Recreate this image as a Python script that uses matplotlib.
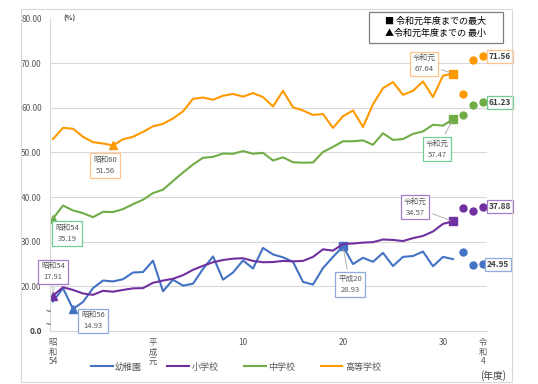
import matplotlib.pyplot as plt
from matplotlib.patches import Rectangle

plt.rcParams['font.family'] = ['Noto Sans CJK JP', 'DejaVu Sans']

# データ（年度別、%）
years = list(range(1979, 2020))
extra_years = [2020, 2021, 2022]

kinder = [16.6, 19.6, 14.93, 16.5, 19.6, 21.3, 21.1, 21.6, 23.1, 23.2,
          25.75, 18.9, 21.5, 20.15, 20.6, 23.9, 26.7, 21.5, 23.1, 25.8,
          24.0, 28.6, 27.15, 26.5, 25.5, 21.0, 20.4, 24.1, 26.6, 28.93,
          25.0, 26.4, 25.5, 27.5, 24.55, 26.6, 26.8, 27.8, 24.5, 26.6, 26.1]
kinder_extra = [27.8, 24.8, 24.95]

elem = [17.91, 19.8, 19.2, 18.4, 18.1, 19.0, 18.8, 19.2, 19.55, 19.6,
        20.8, 21.3, 21.7, 22.5, 23.7, 24.6, 25.4, 25.9, 26.2, 26.3,
        25.7, 25.4, 25.45, 25.7, 25.6, 25.7, 26.6, 28.3, 28.0, 29.5,
        29.6, 29.8, 29.9, 30.5, 30.4, 30.15, 30.8, 31.3, 32.3, 34.0, 34.57]
elem_extra = [37.5, 36.9, 37.88]

junior = [35.19, 38.1, 37.0, 36.4, 35.5, 36.7, 36.65, 37.3, 38.4, 39.4,
          40.9, 41.65, 43.6, 45.5, 47.3, 48.8, 49.0, 49.75, 49.7, 50.3,
          49.7, 49.9, 48.2, 48.9, 47.8, 47.7, 47.75, 50.1, 51.25, 52.5,
          52.5, 52.7, 51.7, 54.3, 52.8, 53.0, 54.15, 54.7, 56.2, 56.0, 57.47]
junior_extra = [58.3, 60.6, 61.23]

high = [53.0, 55.5, 55.3, 53.5, 52.3, 52.0, 51.56, 52.95, 53.5, 54.6,
        55.85, 56.4, 57.6, 59.2, 62.0, 62.3, 61.8, 62.7, 63.1, 62.5,
        63.3, 62.4, 60.3, 63.8, 60.1, 59.4, 58.4, 58.6, 55.5, 58.1,
        59.4, 55.7, 60.8, 64.4, 65.75, 62.9, 63.8, 65.9, 62.4, 67.2, 67.64]
high_extra = [63.1, 70.8, 71.56]

names = ["幼稚園", "小学校", "中学校", "高等学校"]
xtick_pos = [1979, 1989, 1998, 2008, 2018, 2022]
xtick_labels = ["昭\n和\n54", "平\n成\n元", "10", "20", "30", "令\n和\n4"]
ytick_pos = [10, 20, 30, 40, 50, 60, 70, 80]
ytick_labels = ["0.0", "20.00", "30.00", "40.00", "50.00", "60.00", "70.00", "80.00"]


def era(y):
    if y < 1989:
        return "昭和%d" % (y - 1925)
    if y == 1989:
        return "平成元"
    if y < 2019:
        return "平成%d" % (y - 1988)
    return "令和元"


# --------------------------------------------------------------
fig = plt.figure(figsize=(5.38, 3.84), dpi=100)
fig.add_artist(Rectangle((21 / 538, 1 - 382 / 384), 491 / 538, 373 / 384,
                         transform=fig.transFigure, fill=False, ec="#d9d9d9", lw=0.8))
ax = fig.add_axes([50 / 538, 53 / 384, 437 / 538, 312.5 / 384])

series = [
    (kinder, kinder_extra, "#4472C4", "#8FAADC", (20, -12), (7, -38), (15, 0)),
    (elem, elem_extra, "#7030A0", "#A57BC8", (0, 24), (-38, 14), (17, 0)),
    (junior, junior_extra, "#70AD47", "#6FCF97", (14, -15), (-16, -30), (17, 0)),
    (high, high_extra, "#FF9900", "#FFC58A", (-8, -20), (-29, 10), (17, 0)),
]

handles = []
for (vals, extra, col, boxcol, off_min, off_max, off_end), name in zip(series, names):
    ln, = ax.plot(years, vals, color=col, lw=1.5, label=name)
    handles.append(ln)
    ax.plot(extra_years, extra, "o", color=col, ms=5, ls="none")

    imin = vals.index(min(vals))
    imax = vals.index(max(vals))
    ax.plot(years[imin], vals[imin], "^", color=col, ms=6)
    ax.plot(years[imax], vals[imax], "s", color=col, ms=5.5)

    for i, off in [(imin, off_min), (imax, off_max)]:
        ax.annotate("%s\n%.2f" % (era(years[i]), vals[i]), xy=(years[i], vals[i]),
                    xytext=off, textcoords="offset pixels", ha="center", va="center",
                    fontsize=5.5, color="#595959", linespacing=1.5,
                    bbox=dict(boxstyle="square,pad=0.35", fc="white", ec=boxcol, lw=0.9),
                    arrowprops=dict(arrowstyle="-", color="#a6a6a6", lw=0.6),
                    annotation_clip=False)

    ax.annotate("%.2f" % extra[-1], xy=(extra_years[-1], extra[-1]), xytext=off_end,
                textcoords="offset pixels", ha="center", va="center",
                fontsize=6, fontweight="bold", color="#404040",
                bbox=dict(boxstyle="square,pad=0.25", fc="white", ec=boxcol, lw=0.9),
                annotation_clip=False)

# 軸
ax.set_xlim(1978.7, 2022.4)
ax.set_ylim(10, 80)
ax.set_yticks(ytick_pos)
ax.set_yticklabels(ytick_labels)
ax.set_xticks(xtick_pos)
ax.set_xticklabels(xtick_labels, linespacing=1.1)
ax.tick_params(axis="both", length=0, labelsize=6, colors="#595959")
ax.tick_params(axis="y", pad=6)
ax.tick_params(axis="x", pad=5)
ax.get_yticklabels()[0].set_fontweight("bold")
ax.get_yticklabels()[0].set_color("#404040")
ax.grid(axis="y", color="#d9d9d9", lw=0.8)
for s in ["top", "right"]:
    ax.spines[s].set_visible(False)
for s in ["left", "bottom"]:
    ax.spines[s].set_color("#d9d9d9")

ax.text(1980.0, 80, "(%)", fontsize=5, fontweight="bold", color="#404040", va="center")
ax.text(1978.55, 14.3, "~", fontsize=7, color="#404040", ha="center", va="center")
ax.text(1978.55, 11.3, "~", fontsize=7, color="#404040", ha="center", va="center")
fig.text(493 / 538, 1 - 376 / 384, "(年度)", fontsize=7, color="#404040",
         ha="center", va="center")

# 凡例（最大・最小）
fig.add_artist(Rectangle((369 / 538, 1 - 43 / 384), 134 / 538, 31 / 384,
                         transform=fig.transFigure, fill=False, ec="#7f7f7f", lw=0.9))
fig.text(436 / 538, 1 - 21 / 384, "■ 令和元年度までの最大", fontsize=6.5,
         color="black", ha="center", va="center")
fig.text(436 / 538, 1 - 33 / 384, "▲令和元年度までの 最小", fontsize=6.5,
         color="black", ha="center", va="center")

leg = ax.legend(handles=handles, loc="center", bbox_to_anchor=(236 / 538, 1 - 367 / 384),
                bbox_transform=fig.transFigure, ncol=4, frameon=False, fontsize=6.5,
                handlelength=2.4, columnspacing=2.8, handletextpad=0.3)
for t in leg.get_texts():
    t.set_color("#595959")

fig.savefig("out.png", dpi=100)
